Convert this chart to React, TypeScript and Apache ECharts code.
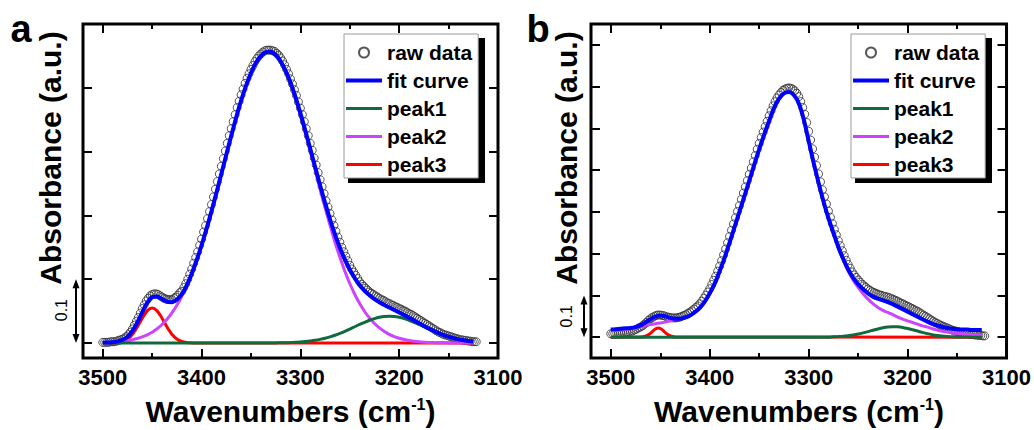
import React, { useEffect, useRef } from "react";
import * as echarts from "echarts";

// ---------------- data ----------------
const X_MAJOR = [3100, 3200, 3300, 3400, 3500];
const X_MINOR = [3150, 3250, 3350, 3450];
const Y_TICKS_A = [0, 0.1, 0.2, 0.3, 0.4];
const Y_TICKS_B = [0, 0.1, 0.2, 0.3, 0.4, 0.5, 0.6, 0.7];
const SERIES_NAMES = ["raw data", "fit curve", "peak1", "peak2", "peak3"];

// raw data: wavenumbers 3500 -> 3122, step 2 cm-1
const RAW_START = 3500;
const RAW_STEP = 2;
// fitted curves: wavenumbers 3500 -> 3125, step 5 cm-1
const LINE_START = 3500;
const LINE_STEP = 5;

const rawA = [
  0.001, 0.001, 0.001, 0.001, 0.002, 0.002, 0.002, 0.003, 0.004, 0.005,
  0.006, 0.008, 0.010, 0.013, 0.017, 0.022, 0.028, 0.034, 0.040, 0.047,
  0.054, 0.060, 0.066, 0.070, 0.074, 0.076, 0.077, 0.077, 0.076, 0.074,
  0.072, 0.070, 0.069, 0.068, 0.068, 0.068, 0.070, 0.072, 0.075, 0.079,
  0.081, 0.087, 0.093, 0.100, 0.108, 0.116, 0.125, 0.134, 0.143, 0.153,
  0.163, 0.174, 0.184, 0.195, 0.206, 0.217, 0.229, 0.241, 0.253, 0.265,
  0.277, 0.289, 0.301, 0.313, 0.325, 0.336, 0.347, 0.358, 0.369, 0.379,
  0.389, 0.398, 0.407, 0.415, 0.422, 0.429, 0.435, 0.441, 0.446, 0.450,
  0.453, 0.456, 0.458, 0.459, 0.459, 0.459, 0.458, 0.457, 0.454, 0.451,
  0.447, 0.442, 0.436, 0.429, 0.422, 0.414, 0.406, 0.397, 0.388, 0.378,
  0.368, 0.358, 0.347, 0.336, 0.325, 0.313, 0.302, 0.290, 0.279, 0.267,
  0.256, 0.245, 0.234, 0.223, 0.213, 0.203, 0.193, 0.184, 0.175, 0.166,
  0.158, 0.150, 0.143, 0.136, 0.129, 0.122, 0.116, 0.111, 0.106, 0.101,
  0.096, 0.092, 0.089, 0.086, 0.083, 0.080, 0.078, 0.076, 0.074, 0.072,
  0.070, 0.068, 0.067, 0.065, 0.063, 0.062, 0.060, 0.059, 0.057, 0.056,
  0.054, 0.053, 0.051, 0.050, 0.048, 0.046, 0.045, 0.043, 0.041, 0.039,
  0.037, 0.035, 0.033, 0.031, 0.029, 0.027, 0.025, 0.023, 0.021, 0.019,
  0.017, 0.016, 0.014, 0.013, 0.012, 0.011, 0.010, 0.009, 0.008, 0.007,
  0.006, 0.005, 0.005, 0.004, 0.004, 0.003, 0.003, 0.002, 0.002, 0.002,
];

const fitA = [
  0.0006, 0.0009, 0.0013, 0.0026, 0.0050, 0.0099, 0.0188, 0.0322, 0.0484, 0.0632,
  0.0720, 0.0728, 0.0690, 0.0650, 0.0640, 0.0680, 0.0765, 0.0905, 0.1087, 0.1297,
  0.1532, 0.1789, 0.2064, 0.2353, 0.2651, 0.2952, 0.3249, 0.3533, 0.3798, 0.4033,
  0.4233, 0.4391, 0.4501, 0.4560, 0.4566, 0.4518, 0.4417, 0.4268, 0.4083, 0.3858,
  0.3603, 0.3329, 0.3043, 0.2754, 0.2469, 0.2196, 0.1940, 0.1704, 0.1494, 0.1310,
  0.1152, 0.1019, 0.0909, 0.0819, 0.0748, 0.0689, 0.0639, 0.0596, 0.0556, 0.0517,
  0.0477, 0.0437, 0.0396, 0.0353, 0.0310, 0.0268, 0.0228, 0.0190, 0.0155, 0.0125,
  0.0099, 0.0075, 0.0057, 0.0042, 0.0031, 0.0022,
];

const peak2A = [
  0.0006, 0.0009, 0.0013, 0.0018, 0.0026, 0.0036, 0.0051, 0.0070, 0.0095, 0.0128,
  0.0170, 0.0224, 0.0290, 0.0372, 0.0473, 0.0592, 0.0733, 0.0897, 0.1085, 0.1297,
  0.1532, 0.1789, 0.2064, 0.2353, 0.2651, 0.2952, 0.3249, 0.3533, 0.3798, 0.4033,
  0.4233, 0.4391, 0.4501, 0.4560, 0.4566, 0.4518, 0.4417, 0.4268, 0.4076, 0.3847,
  0.3588, 0.3307, 0.3012, 0.2712, 0.2412, 0.2121, 0.1843, 0.1582, 0.1343, 0.1126,
  0.0933, 0.0764, 0.0618, 0.0494, 0.0391, 0.0306, 0.0236, 0.0180, 0.0136, 0.0101,
  0.0074, 0.0054, 0.0039, 0.0028, 0.0019, 0.0013, 0.0009, 0.0006, 0.0004, 0.0003,
  0.0002, 0.0001, 0.0001, 0, 0, 0,
];

const peak1A_wn = [
  3500, 3330, 3325, 3320, 3315, 3310, 3305, 3300, 3295, 3290, 3285, 3280, 3275, 3270,
  3265, 3260, 3255, 3250, 3245, 3240, 3235, 3230, 3225, 3220, 3215, 3210, 3205, 3200,
  3195, 3190, 3185, 3180, 3175, 3170, 3165, 3160, 3155, 3150, 3145, 3140, 3135, 3130, 3125,
];
const peak1A = [
  0, 0, 0.0002, 0.0003, 0.0004, 0.0007, 0.0011, 0.0015, 0.0022, 0.0031, 0.0042, 0.0057, 0.0075, 0.0097,
  0.0122, 0.0151, 0.0184, 0.0219, 0.0255, 0.0291, 0.0325, 0.0357, 0.0383, 0.0403, 0.0416, 0.042, 0.0416, 0.0403,
  0.0383, 0.0357, 0.0325, 0.0291, 0.0255, 0.0219, 0.0184, 0.0151, 0.0122, 0.0097, 0.0075, 0.0057, 0.0042, 0.0031, 0.0022,
];

const peak3A_wn = [
  3500, 3490, 3485, 3480, 3475, 3470, 3465, 3460, 3455, 3450,
  3445, 3440, 3435, 3430, 3425, 3420, 3415, 3410, 3405, 3125,
];
const peak3A = [
  0, 0, 0.0008, 0.0024, 0.0063, 0.0137, 0.0252, 0.0389, 0.0504, 0.055,
  0.0504, 0.0389, 0.0252, 0.0137, 0.0063, 0.0024, 0.0008, 0.0002, 0, 0,
];

const rawB = [
  0.008, 0.008, 0.009, 0.009, 0.010, 0.010, 0.011, 0.011, 0.012, 0.013,
  0.014, 0.015, 0.017, 0.019, 0.022, 0.024, 0.027, 0.031, 0.035, 0.040,
  0.044, 0.047, 0.050, 0.052, 0.053, 0.053, 0.052, 0.051, 0.049, 0.048,
  0.047, 0.046, 0.046, 0.046, 0.047, 0.048, 0.050, 0.052, 0.054, 0.057,
  0.060, 0.063, 0.067, 0.071, 0.075, 0.080, 0.086, 0.093, 0.100, 0.108,
  0.116, 0.126, 0.136, 0.146, 0.158, 0.170, 0.183, 0.197, 0.211, 0.226,
  0.241, 0.256, 0.271, 0.286, 0.301, 0.315, 0.330, 0.345, 0.360, 0.375,
  0.390, 0.405, 0.420, 0.435, 0.450, 0.464, 0.478, 0.491, 0.504, 0.517,
  0.530, 0.542, 0.554, 0.564, 0.573, 0.580, 0.586, 0.591, 0.594, 0.596,
  0.597, 0.596, 0.594, 0.590, 0.584, 0.576, 0.564, 0.550, 0.534, 0.514,
  0.493, 0.472, 0.451, 0.431, 0.411, 0.391, 0.372, 0.353, 0.336, 0.319,
  0.302, 0.287, 0.272, 0.258, 0.245, 0.231, 0.219, 0.207, 0.195, 0.184,
  0.174, 0.165, 0.156, 0.149, 0.143, 0.137, 0.132, 0.127, 0.123, 0.119,
  0.115, 0.112, 0.109, 0.107, 0.105, 0.103, 0.101, 0.100, 0.098, 0.097,
  0.096, 0.094, 0.092, 0.090, 0.088, 0.086, 0.083, 0.081, 0.079, 0.076,
  0.074, 0.072, 0.069, 0.067, 0.064, 0.062, 0.059, 0.056, 0.053, 0.050,
  0.047, 0.044, 0.041, 0.038, 0.035, 0.033, 0.030, 0.028, 0.026, 0.024,
  0.022, 0.020, 0.018, 0.016, 0.015, 0.013, 0.012, 0.011, 0.010, 0.009,
  0.008, 0.007, 0.006, 0.006, 0.005, 0.005, 0.004, 0.004, 0.003, 0.003,
];

const fitB = [
  0.018, 0.019, 0.020, 0.021, 0.022, 0.024, 0.028, 0.035, 0.043, 0.049,
  0.052, 0.050, 0.046, 0.044, 0.044, 0.047, 0.052, 0.060, 0.070, 0.085,
  0.105, 0.128, 0.158, 0.190, 0.226, 0.263, 0.300, 0.337, 0.375, 0.413,
  0.450, 0.485, 0.518, 0.549, 0.571, 0.584, 0.587, 0.580, 0.560, 0.522,
  0.470, 0.418, 0.370, 0.325, 0.285, 0.250, 0.216, 0.187, 0.162, 0.142,
  0.127, 0.115, 0.105, 0.097, 0.092, 0.088, 0.084, 0.079, 0.073, 0.067,
  0.061, 0.055, 0.049, 0.043, 0.037, 0.032, 0.028, 0.025, 0.022, 0.020,
  0.019, 0.018, 0.018, 0.017, 0.017, 0.017,
];

const peak2B = [
  0.016, 0.017, 0.018, 0.019, 0.020, 0.022, 0.025, 0.028, 0.030, 0.032,
  0.034, 0.036, 0.039, 0.042, 0.044, 0.047, 0.052, 0.060, 0.070, 0.085,
  0.105, 0.128, 0.158, 0.190, 0.226, 0.263, 0.300, 0.337, 0.375, 0.413,
  0.450, 0.485, 0.518, 0.549, 0.571, 0.584, 0.587, 0.580, 0.560, 0.522,
  0.470, 0.418, 0.370, 0.325, 0.285, 0.249, 0.215, 0.185, 0.158, 0.137,
  0.119, 0.104, 0.091, 0.080, 0.071, 0.064, 0.059, 0.054, 0.048, 0.043,
  0.039, 0.035, 0.031, 0.027, 0.024, 0.020, 0.017, 0.014, 0.012, 0.010,
  0.009, 0.008, 0.007, 0.006, 0.005, 0.005,
];

const peak1B_wn = [
  3500, 3280, 3275, 3270, 3265, 3260, 3255, 3250, 3245, 3240, 3235, 3230, 3225, 3220,
  3215, 3210, 3205, 3200, 3195, 3190, 3185, 3180, 3175, 3170, 3165, 3160, 3155, 3150,
  3145, 3140, 3135, 3125,
];
const peak1B = [
  0, 0, 0.0007, 0.0013, 0.0021, 0.0034, 0.0051, 0.0073, 0.0101, 0.0132, 0.0165, 0.0196, 0.0223, 0.0242,
  0.0250, 0.0246, 0.0232, 0.0208, 0.0178, 0.0145, 0.0113, 0.0084, 0.0059, 0.0040, 0.0026, 0.0016, 0.0009, 0.0005,
  0.0003, 0.0001, 0, 0,
];

const peak3B_wn = [3500, 3470, 3466, 3462, 3458, 3455, 3452, 3449, 3446, 3442, 3438, 3434, 3125];
const peak3B = [0, 0.0002, 0.0014, 0.0055, 0.0133, 0.0194, 0.022, 0.0194, 0.0133, 0.0055, 0.0014, 0.0002, 0];

// ---------------- layout / style ----------------
const FONT = 'Arial, "Liberation Sans", Helvetica, sans-serif';
const X_MIN = 3100;
const X_MAX = 3520;
const Y_RANGE_A = [-0.0235, 0.5];
const Y_RANGE_B = [-0.05, 0.75];
const GRID_A = { left: 83, top: 24, width: 415, height: 334 };
const GRID_B = { left: 591, top: 24, width: 416, height: 334 };
const LEGEND_A = { left: 344, top: 34, width: 137, height: 145 };
const LEGEND_B = { left: 851, top: 34, width: 137, height: 145 };
const COLORS = {
  raw: "#2e2e2e",
  fit: "#0000ff",
  peak1: "#116a3c",
  peak2: "#cc44ff",
  peak3: "#ff0000",
};

const RAW_WN = rawA.map((_, i) => RAW_START - RAW_STEP * i);
const LINE_WN = fitA.map((_, i) => LINE_START - LINE_STEP * i);

function pairs(xs: number[], ys: number[]) {
  return xs.map((x, i) => [x, ys[i]]);
}

function yPix(grid: any, range: number[], v: number) {
  return grid.top + ((range[1] - v) / (range[1] - range[0])) * grid.height;
}

function xAxes(gi: number) {
  const common = {
    type: "value",
    gridIndex: gi,
    min: X_MIN,
    max: X_MAX,
    inverse: true,
    axisLine: { show: false, onZero: false },
    splitLine: { show: false },
  };
  const tick = (vals: number[], len: number) => ({
    show: true,
    inside: true,
    length: len,
    lineStyle: { color: "#000", width: 2 },
    customValues: vals,
  });
  return [
    {
      ...common,
      position: "bottom",
      axisTick: tick(X_MAJOR, 9),
      axisLabel: {
        show: true,
        customValues: X_MAJOR,
        formatter: (v: number) => String(Math.round(v)),
        margin: 8,
        color: "#000",
        fontSize: 22,
        fontWeight: "bold",
        fontFamily: FONT,
      },
    },
    { ...common, position: "bottom", axisTick: tick(X_MINOR, 5), axisLabel: { show: false } },
    { ...common, position: "top", axisTick: tick(X_MAJOR, 9), axisLabel: { show: false } },
    { ...common, position: "top", axisTick: tick(X_MINOR, 5), axisLabel: { show: false } },
  ];
}

function yAxes(gi: number, range: number[], ticks: number[]) {
  const common = {
    type: "value",
    gridIndex: gi,
    min: range[0],
    max: range[1],
    axisLine: { show: false, onZero: false },
    splitLine: { show: false },
    axisLabel: { show: false },
    axisTick: {
      show: true,
      inside: true,
      length: 9,
      lineStyle: { color: "#000", width: 2 },
      customValues: ticks,
    },
  };
  return [
    { ...common, position: "left" },
    { ...common, position: "right" },
  ];
}

function panelSeries(
  xi: number,
  yi: number,
  raw: number[],
  fit: number[],
  p1wn: number[],
  p1: number[],
  p2: number[],
  p3wn: number[],
  p3: number[]
) {
  const line = (name: string, color: string, data: any[], width: number) => ({
    type: "line",
    name,
    xAxisIndex: xi,
    yAxisIndex: yi,
    data,
    symbol: "none",
    showSymbol: false,
    smooth: 0.3,
    silent: true,
    lineStyle: { color, width },
    itemStyle: { color },
  });
  return [
    {
      type: "scatter",
      name: "raw data",
      xAxisIndex: xi,
      yAxisIndex: yi,
      data: pairs(RAW_WN, raw),
      symbol: "circle",
      symbolSize: 8,
      silent: true,
      itemStyle: { color: "rgba(255,255,255,0)", borderColor: COLORS.raw, borderWidth: 1 },
    },
    line("peak3", COLORS.peak3, pairs(p3wn, p3), 3),
    line("peak2", COLORS.peak2, pairs(LINE_WN, p2), 3),
    line("peak1", COLORS.peak1, pairs(p1wn, p1), 3),
    line("fit curve", COLORS.fit, pairs(LINE_WN, fit), 4),
  ];
}

const LINE_ICON_4 = "path://M0,0L36,0L36,4L0,4Z";
const LINE_ICON_3 = "path://M0,0L36,0L36,3L0,3Z";

function legend(box: any) {
  return {
    data: [
      { name: SERIES_NAMES[0] },
      { name: SERIES_NAMES[1], icon: LINE_ICON_4 },
      { name: SERIES_NAMES[2], icon: LINE_ICON_3 },
      { name: SERIES_NAMES[3], icon: LINE_ICON_3 },
      { name: SERIES_NAMES[4], icon: LINE_ICON_3 },
    ],
    orient: "vertical",
    left: box.left,
    top: box.top,
    itemWidth: 36,
    itemHeight: 10,
    itemGap: 7,
    padding: [8, 6, 3, 2],
    backgroundColor: "#fff",
    borderColor: "#9a9a9a",
    borderWidth: 1,
    selectedMode: false,
    z: 6,
    textStyle: { fontSize: 21, lineHeight: 21, fontWeight: "bold", color: "#000", fontFamily: FONT },
  };
}

function legendShadow(box: any) {
  return {
    type: "rect",
    z: 5,
    shape: { x: box.left + 4, y: box.top + 4, width: box.width, height: box.height },
    style: { fill: "#000" },
  };
}

function arrow(x: number, yTop: number, yBot: number) {
  const hw = 3.5;
  const hl = 9;
  return [
    {
      type: "line",
      shape: { x1: x, y1: yTop + 4, x2: x, y2: yBot - 4 },
      style: { stroke: "#000", lineWidth: 2 },
    },
    {
      type: "polygon",
      shape: { points: [[x, yTop], [x - hw, yTop + hl], [x + hw, yTop + hl]] },
      style: { fill: "#000" },
    },
    {
      type: "polygon",
      shape: { points: [[x, yBot], [x - hw, yBot - hl], [x + hw, yBot - hl]] },
      style: { fill: "#000" },
    },
  ];
}

function txt(text: string, x: number, y: number, size: number, weight: string, rotate = 0, extra: any = {}) {
  return {
    type: "text",
    x,
    y,
    rotation: rotate,
    style: {
      text,
      fontSize: size,
      fontWeight: weight,
      fontFamily: FONT,
      fill: "#000",
      align: "center",
      verticalAlign: "middle",
      textAlign: "center",
      textVerticalAlign: "middle",
      ...extra,
    },
  };
}

const SUP_RICH = {
  sup: { fontSize: 16, fontWeight: "bold", fontFamily: FONT, fill: "#000", verticalAlign: "top", lineHeight: 30 },
};

export default function App() {
  const ref = useRef<HTMLDivElement>(null);

  useEffect(() => {
    if (!ref.current) return;
    const chart = echarts.init(ref.current, undefined, { renderer: "svg" });

    const a0 = yPix(GRID_A, Y_RANGE_A, 0);
    const a1 = yPix(GRID_A, Y_RANGE_A, 0.1);
    const b0 = yPix(GRID_B, Y_RANGE_B, 0);
    const b1 = yPix(GRID_B, Y_RANGE_B, 0.1);

    const option: any = {
      animation: false,
      backgroundColor: "#fff",
      grid: [
        { ...GRID_A, show: true, borderColor: "#000", borderWidth: 3, backgroundColor: "rgba(0,0,0,0)", containLabel: false },
        { ...GRID_B, show: true, borderColor: "#000", borderWidth: 3, backgroundColor: "rgba(0,0,0,0)", containLabel: false },
      ],
      xAxis: [...xAxes(0), ...xAxes(1)],
      yAxis: [...yAxes(0, Y_RANGE_A, Y_TICKS_A), ...yAxes(1, Y_RANGE_B, Y_TICKS_B)],
      legend: [legend(LEGEND_A), legend(LEGEND_B)],
      series: [
        ...panelSeries(0, 0, rawA, fitA, peak1A_wn, peak1A, peak2A, peak3A_wn, peak3A),
        ...panelSeries(4, 2, rawB, fitB, peak1B_wn, peak1B, peak2B, peak3B_wn, peak3B),
      ],
      graphic: [
        legendShadow(LEGEND_A),
        legendShadow(LEGEND_B),
        txt("a", 21, 29, 38, "bold"),
        txt("b", 538, 29, 38, "bold"),
        txt("Absorbance (a.u.)", 50, 158, 30, "bold", Math.PI / 2),
        txt("Absorbance (a.u.)", 566, 158, 30, "bold", Math.PI / 2),
        txt("Wavenumbers (cm{sup|-1})", GRID_A.left + GRID_A.width / 2, 411, 30, "bold", 0, { rich: SUP_RICH }),
        txt("Wavenumbers (cm{sup|-1})", GRID_B.left + GRID_B.width / 2, 411, 30, "bold", 0, { rich: SUP_RICH }),
        txt("0.1", 61.5, (a0 + a1) / 2 - 1, 16, "normal", Math.PI / 2),
        txt("0.1", 566, (b0 + b1) / 2, 16, "normal", Math.PI / 2),
        ...arrow(76, a1, a0),
        ...arrow(584, b1, b0),
      ],
    };

    chart.setOption(option);
    return () => chart.dispose();
  }, []);

  return (
    <div
      ref={ref}
      style={{ position: "absolute", left: 0, top: 0, width: 1034, height: 430, background: "#fff" }}
    />
  );
}
